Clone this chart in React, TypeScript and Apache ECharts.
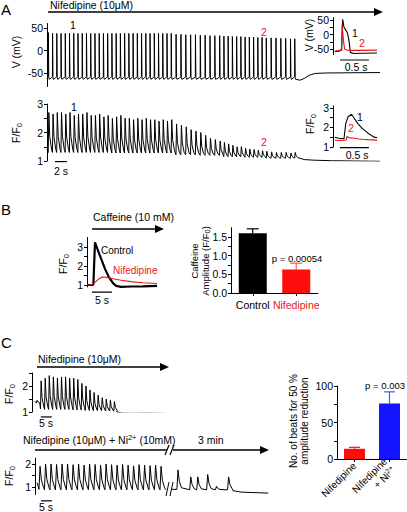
import React, { useEffect, useRef } from 'react';
import * as echarts from 'echarts';

// ---------------- DATA ----------------
// Panel A: beat times (s), AP peaks (mV), Ca transient peaks/troughs (F/F0)
const beatTimesA = [0.2,0.9,1.6,2.3,3.0,3.7,4.4,5.1,5.8,6.5,7.2,7.9,8.6,9.3,10.0,10.7,11.4,12.1,12.8,13.5,14.2,14.9,15.6,16.3,17.0,17.7,18.4,19.1,19.8,20.5,21.3,22.1,22.9,23.7,24.5,25.3,26.1,26.9,27.7,28.5,29.2,29.9,30.6,31.3,32.0,32.7,33.4,34.1,34.8,35.5,36.2,37.0,37.8,38.6,39.4,40.2,40.9];
const apPeakA = [40,38,38,38,38,38,38,38,38,38, 38,38,38,38,38,38,38,38,38,38, 38,38,38,38,38,38,38,38,38,38, 36,36,35,35,35,34,34,33,33,33, 32,32,31,31,31,30,30,30,29,29, 28,28,28,27,27,26,26];
const apDiastolicA = -64;
const apTailA = [[41.05,-64],[41.8,-66],[42.5,-62],[43.3,-55],[44.3,-51],[46,-50],[50,-49.5],[55,-49]];
const caPeakA = [2.7,2.65,2.7,2.7,2.65,2.7,2.6,2.65,2.65,2.7, 2.6,2.6,2.65,2.55,2.6,2.5,2.55,2.6,2.5,2.5, 2.45,2.5,2.45,2.5,2.45,2.45,2.4,2.45,2.4,2.45, 2.3,2.25,2.2,2.1,2.05,2.0,1.9,1.8,1.75,1.7, 1.65,1.6,1.55,1.5,1.5,1.45,1.42,1.4,1.38,1.36, 1.34,1.32,1.3,1.3,1.3,1.28,1.3];
const caTroughA = [1.3,1.3,1.3,1.3,1.3,1.3,1.3,1.3,1.3,1.3, 1.3,1.3,1.3,1.3,1.3,1.28,1.28,1.28,1.28,1.28, 1.28,1.28,1.28,1.28,1.28,1.28,1.28,1.28,1.28,1.28, 1.22,1.22,1.22,1.22,1.22,1.2,1.2,1.2,1.2,1.2, 1.15,1.15,1.15,1.15,1.15,1.13,1.13,1.13,1.13,1.13, 1.1,1.1,1.1,1.1,1.1,1.1,1.1];
const caTailA = [[41.5,1.1],[42.5,1.05],[44,1.03],[47,1.01],[51,1.0],[55,0.99]];

// Panel A insets (single beats 1 and 2)
const insetAp1 = [[0.03,-60],[0.1,-58],[0.15,-54],[0.167,54],[0.19,26],[0.22,16],[0.25,6],[0.275,-20],[0.3,-62],[0.36,-66],[0.5,-65],[0.76,-64]];
const insetAp2 = [[0.03,-57],[0.1,-56],[0.145,-52],[0.157,36],[0.18,-20],[0.2,-50],[0.24,-54],[0.35,-55],[0.5,-55],[0.76,-54]];
const insetCa1 = [[0.03,1.5],[0.1,1.45],[0.19,1.42],[0.22,2.2],[0.26,2.55],[0.32,2.68],[0.36,2.5],[0.43,2.2],[0.5,1.97],[0.6,1.72],[0.7,1.52],[0.76,1.47]];
const insetCa2 = [[0.03,1.36],[0.1,1.33],[0.2,1.35],[0.23,1.36],[0.24,1.55],[0.27,1.48],[0.33,1.46],[0.42,1.42],[0.5,1.4],[0.6,1.38],[0.76,1.35]];

// Panel B: caffeine-induced transients and summary
const cafControl = [[0,1.0],[1.4,1.0],[1.6,1.05],[2.0,3.25],[2.5,2.95],[3.5,2.4],[4.5,1.85],[5.5,1.4],[6.5,1.1],[7.3,0.95],[8.5,0.9],[11,0.92],[14,0.93],[17.5,0.95]];
const cafNifedipine = [[0,1.0],[1.0,1.0],[1.8,1.1],[2.8,1.3],[3.8,1.42],[5,1.4],[6.5,1.33],[8.5,1.25],[11,1.18],[14,1.12],[17.5,1.08]];
const cafCategories = ['Control', 'Nifedipine'];
const cafMeans = [1.6, 0.63];
const cafErrors = [0.12, 0.17];

// Panel C: Nifedipine alone
const beatTimesC1 = [2.0,3.85,5.7,7.55,9.4,11.25,13.1,14.95,16.8,18.65,20.5,22.35,24.2,26.05,27.9,29.75,31.6,33.45,35.3,37.15];
const caPeakC1 = [1.45,2.2,2.3,2.4,2.35,2.3,2.35,2.35,2.3,2.3,2.25,2.1,2.0,1.85,1.75,1.65,1.55,1.5,1.45,1.4];
const caTroughC1 = [1.35,1.12,1.1,1.1,1.1,1.1,1.1,1.1,1.1,1.08,1.08,1.08,1.06,1.06,1.05,1.05,1.05,1.04,1.04,1.03];
const caTailC1 = [[38.6,1.0],[41,0.96],[46,0.95],[52,0.96],[58,0.95],[63,0.94]];

// Panel C: Nifedipine + Ni2+ (before and after the 3 min break)
const beatTimesC2 = [1.8,4.3,6.8,9.3,11.8,14.3,16.8,19.3,21.8,24.3,26.8,29.3,31.8,34.3,36.8,39.3,41.8,44.3,46.8,49.3,51.8,54.3,56.8];
const caPeakC2 = [1.9,2.0,2.0,1.98,2.0,2.0,1.97,2.0,1.95,2.0,1.98,1.95,2.0,1.97,1.95,1.98,1.95,1.92,1.97,1.95,1.93,1.95,1.9];
const caTroughC2 = [0.92,0.9,0.9,0.9,0.9,0.9,0.9,0.9,0.9,0.9,0.9,0.9,0.9,0.9,0.9,0.9,0.9,0.9,0.9,0.9,0.9,0.9,0.9];
const caEndC2 = [[59.5,0.9]];
const beatTimesC2b = [64.5,70.3,73.5,78.0,82.0,87.5];
const caPeakC2b = [1.75,1.45,1.45,1.55,1.05,1.45];
const caTroughC2b = [0.92,0.9,0.9,0.9,0.9,0.9];
const caTailC2b = [[90,0.86],[94,0.8],[100,0.78],[106,0.76]];

const beatCategories = ['Nifedipine', 'Nifedipine + Ni2+'];
const beatMeans = [14, 76];
const beatErrors = [2, 16];

// ---------------- STYLE ----------------
const FONT = "'Liberation Sans', Arial, Helvetica, sans-serif";
const FS = 10.5;
const RED = '#e8141c';
const BAR_RED = '#ff0d0d';
const BAR_BLUE = '#1414ff';

// ---------------- builders ----------------
function apTrace(times: number[], peaks: number[], mdp: number, tail: number[][]) {
  const d: number[][] = [[0, mdp + 2]];
  times.forEach((t, i) => {
    d.push([t - 0.2, mdp + 3]);
    d.push([t, mdp + 6]);
    d.push([t + 0.02, peaks[i]]);
    d.push([t + 0.09, mdp + 4]);
    d.push([t + 0.16, mdp]);
  });
  return d.concat(tail);
}

function caTrace(times: number[], peaks: number[], troughs: number[], rise: number, d1: number, d2: number, start?: number[]) {
  const d: number[][] = start ? [start] : [];
  times.forEach((t, i) => {
    const b = troughs[i];
    const a = peaks[i] - b;
    d.push([t, b]);
    d.push([t + rise, peaks[i]]);
    d.push([t + rise + d1, b + a * 0.4]);
    d.push([t + rise + d1 + d2, b + a * 0.08]);
  });
  return d;
}

const line = (xi: number, data: number[][], color = '#000', width = 1, clip = true) => ({
  type: 'line', xAxisIndex: xi, yAxisIndex: xi, data, showSymbol: false, symbol: 'none',
  lineStyle: { color, width }, clip, silent: true, z: 2,
});

const yAxis = (gi: number, min: number, max: number, ticks: number[], labels: number[], fmt?: (v: number) => string) => ({
  type: 'value', gridIndex: gi, min, max,
  axisLine: { show: true, lineStyle: { color: '#000', width: 1 } },
  axisTick: { show: true, length: 3, customValues: ticks, lineStyle: { color: '#000', width: 1 } },
  axisLabel: { show: true, customValues: labels, fontSize: FS, color: '#000', margin: 4, fontFamily: FONT, formatter: fmt },
  splitLine: { show: false },
});

const xHidden = (gi: number, max: number) => ({ type: 'value', gridIndex: gi, min: 0, max, show: false });

const txt = (text: string, x: number, y: number, o: any = {}) => ({
  type: 'text', x, y, rotation: o.rot || 0, z: 20, silent: true,
  style: {
    text, fill: o.color || '#000', fontSize: o.size || FS, fontFamily: FONT,
    align: o.align || 'left', verticalAlign: 'middle',
    textAlign: o.align || 'left', textVerticalAlign: 'middle',
    lineHeight: o.lh || 14,
    rich: {
      s: { fontSize: 7.5, lineHeight: 8, verticalAlign: 'bottom', fontFamily: FONT, fill: o.color || '#000' },
      p: { fontSize: 7.5, lineHeight: 8, verticalAlign: 'top', fontFamily: FONT, fill: o.color || '#000' },
    },
  },
});

const ff = (x: number, y: number) => txt('F/F{s|0}', x, y, { rot: Math.PI / 2, align: 'center' });

const seg = (x1: number, y1: number, x2: number, y2: number, w = 1.6) => ({
  type: 'line', z: 20, silent: true, shape: { x1, y1, x2, y2 }, style: { stroke: '#000', lineWidth: w },
});
const head = (xTip: number, y: number) => ({
  type: 'polygon', z: 20, silent: true,
  shape: { points: [[xTip - 9, y - 4], [xTip, y], [xTip - 9, y + 4]] }, style: { fill: '#000' },
});

function errorSeries(idx: number, means: number[], errs: number[], colors: string[], cap: number) {
  return {
    type: 'custom', xAxisIndex: idx, yAxisIndex: idx, z: 1, silent: true,
    data: means.map((m, i) => [i, m, errs[i]]),
    renderItem: (params: any, api: any) => {
      const i = api.value(0), m = api.value(1), e = api.value(2);
      const p0 = api.coord([i, m]);
      const p1 = api.coord([i, m + e]);
      const c = colors[params.dataIndex];
      return {
        type: 'group', children: [
          { type: 'line', shape: { x1: p0[0], y1: p0[1], x2: p1[0], y2: p1[1] }, style: { stroke: c, lineWidth: 1.2 } },
          { type: 'line', shape: { x1: p1[0] - cap / 2, y1: p1[1], x2: p1[0] + cap / 2, y2: p1[1] }, style: { stroke: c, lineWidth: 1.2 } },
        ],
      };
    },
  };
}

function buildOption() {
  const grids = [
    { left: 47, top: 23.5, width: 333, height: 63 },     // 0 A voltage
    { left: 47, top: 104, width: 333, height: 57 },      // 1 A calcium
    { left: 333, top: 17.6, width: 44, height: 37.05 },  // 2 inset V
    { left: 333, top: 106, width: 44, height: 41 },      // 3 inset Ca
    { left: 87, top: 237.5, width: 72, height: 49.4 },   // 4 B trace
    { left: 231, top: 227.7, width: 87, height: 65.3 },  // 5 B bars
    { left: 32, top: 373, width: 140, height: 39 },      // 6 C1 trace
    { left: 35, top: 458.1, width: 233, height: 36.4 },  // 7 C2 trace
    { left: 337, top: 386, width: 70, height: 73 },      // 8 C bars
  ];

  const xAxes: any[] = [
    xHidden(0, 55), xHidden(1, 55), xHidden(2, 0.76), xHidden(3, 0.76), xHidden(4, 18),
    {
      type: 'category', gridIndex: 5, data: cafCategories,
      axisLine: { show: true, lineStyle: { color: '#000' } },
      axisTick: { show: true, alignWithLabel: true, length: 3, lineStyle: { color: '#000' } },
      axisLabel: {
        fontSize: FS, fontFamily: FONT, margin: 6, interval: 0, hideOverlap: false,
        color: (v: any, i: number) => (i === 1 || v === 'Nifedipine' ? RED : '#000'),
      },
    },
    xHidden(6, 63.6), xHidden(7, 105.9),
    {
      type: 'category', gridIndex: 8, data: beatCategories,
      axisLine: { show: true, lineStyle: { color: '#000' } },
      axisTick: { show: true, alignWithLabel: true, length: 3, lineStyle: { color: '#000' } },
      axisLabel: {
        fontSize: 10, fontFamily: FONT, color: '#000', rotate: 45, margin: 5, interval: 0, hideOverlap: false, lineHeight: 12,
        formatter: (v: string, i: number) => (i === 1 ? 'Nifedipine\n+ Ni{p|2+}' : v),
        rich: { p: { fontSize: 7, lineHeight: 8, verticalAlign: 'top', fontFamily: FONT, color: '#000' } },
      },
    },
  ];

  const yAxes: any[] = [
    yAxis(0, -80, 60, [-50, 0, 50], [-50, 0, 50]),
    yAxis(1, 1, 3, [1, 1.5, 2, 2.5, 3], [1, 2, 3]),
    yAxis(2, -70, 60, [-50, -25, 0, 25, 50], [-50, 0, 50]),
    yAxis(3, 1, 3.1, [1, 1.5, 2, 2.5, 3], [1, 2, 3]),
    yAxis(4, 0.9, 3.5, [1, 1.5, 2, 2.5, 3], [1, 2, 3]),
    yAxis(5, 0, 1.75, [0, 0.25, 0.5, 0.75, 1, 1.25, 1.5], [0, 0.5, 1, 1.5], (v: number) => v.toFixed(1)),
    yAxis(6, 1, 2.5, [1, 1.5, 2, 2.5], [1, 2]),
    yAxis(7, 0.7, 2.25, [1, 1.5, 2], [1, 2]),
    yAxis(8, 0, 100, [0, 25, 50, 75, 100], [0, 50, 100]),
  ];

  const series: any[] = [
    line(0, apTrace(beatTimesA, apPeakA, apDiastolicA, apTailA), '#000', 1),
    line(1, caTrace(beatTimesA, caPeakA, caTroughA, 0.1, 0.15, 0.3, [0, 1.4]).concat(caTailA), '#000', 1),
    line(2, insetAp1, '#000', 1.1),
    line(2, insetAp2, RED, 1.1),
    line(3, insetCa1, '#000', 1.1),
    line(3, insetCa2, RED, 1.1),
    line(4, cafControl, '#000', 2.2),
    line(4, cafNifedipine, RED, 1.1),
    line(6, caTrace(beatTimesC1, caPeakC1, caTroughC1, 0.3, 0.4, 0.8, [1.2, 1.4]).concat(caTailC1), '#000', 1),
    line(7, caTrace(beatTimesC2, caPeakC2, caTroughC2, 0.5, 0.6, 1.0, [1.0, 1.2]).concat(caEndC2), '#000', 1),
    line(7, caTrace(beatTimesC2b, caPeakC2b, caTroughC2b, 0.5, 0.6, 1.0, [62.0, 0.92]).concat(caTailC2b), '#000', 1),
    // scale bars
    line(1, [[1.3, 0.98], [3.3, 0.98]], '#000', 1.2, false),
    line(2, [[0.12, -88.8], [0.62, -88.8]], '#000', 1.2, false),
    line(3, [[0.12, 0.97], [0.62, 0.97]], '#000', 1.2, false),
    line(4, [[1.25, 0.62], [6.25, 0.62]], '#000', 1.2, false),
    line(6, [[4, 0.81], [9, 0.81]], '#000', 1.2, false),
    line(7, [[2.7, 0.43], [7.7, 0.43]], '#000', 1.2, false),
    {
      type: 'bar', xAxisIndex: 5, yAxisIndex: 5, barWidth: 28, silent: true, z: 2,
      data: cafMeans.map((v, i) => ({ value: v, itemStyle: { color: i === 0 ? '#000' : BAR_RED } })),
    },
    errorSeries(5, cafMeans, cafErrors, ['#000', '#ff5050'], 12),
    {
      type: 'bar', xAxisIndex: 8, yAxisIndex: 8, barWidth: 21, silent: true, z: 2,
      data: beatMeans.map((v, i) => ({ value: v, itemStyle: { color: i === 0 ? BAR_RED : BAR_BLUE } })),
    },
    errorSeries(8, beatMeans, beatErrors, [BAR_RED, '#4a5ae0'], 11),
  ];

  const graphic: any[] = [
    // Panel A
    txt('A', 1, 9, { size: 15 }),
    txt('Nifedipine (10μM)', 50, 5),
    seg(48, 12, 375, 12), head(383, 12),
    txt('V (mV)', 16, 52, { rot: Math.PI / 2, align: 'center' }),
    ff(16, 133),
    txt('1', 70, 25), txt('2', 261, 32, { color: RED }),
    txt('1', 71, 107), txt('2', 261, 142, { color: RED }),
    txt('2 s', 61, 171, { align: 'center' }),
    txt('V (mV)', 309, 35, { rot: Math.PI / 2, align: 'center' }),
    txt('1', 352, 33), txt('2', 359, 43, { color: RED }),
    txt('0.5 s', 356, 67, { align: 'center' }),
    ff(310, 124),
    txt('1', 357, 117), txt('2', 348, 128, { color: RED }),
    txt('0.5 s', 357, 155, { align: 'center' }),
    // Panel B
    txt('B', 1, 209, { size: 15 }),
    txt('Caffeine (10 mM)', 93, 217),
    seg(92, 229, 156, 229), head(164, 229),
    ff(63, 264),
    txt('Control', 101, 250, { size: 10 }),
    txt('Nifedipine', 113, 270, { size: 10, color: RED }),
    txt('5 s', 102, 300, { align: 'center' }),
    txt('Caffeine\nAmplitude (F/F{s|0})', 200, 261, { rot: Math.PI / 2, align: 'center', size: 9.5, lh: 11 }),
    txt('p = 0.00054', 297, 258, { align: 'center', size: 9.5 }),
    // Panel C
    txt('C', 1, 342, { size: 15 }),
    txt('Nifedipine (10μM)', 38, 359),
    seg(37, 367, 161, 367), head(169, 367),
    ff(9, 394),
    txt('5 s', 46, 423, { align: 'center' }),
    txt('Nifedipine (10μM) + Ni{p|2+} (10mM)', 23, 440),
    txt('3 min', 198, 440),
    seg(35, 450, 167, 450), seg(173, 450, 261, 450), head(269, 450),
    seg(165, 455, 169, 445, 1.2), seg(170, 455, 174, 445, 1.2),
    seg(166, 496, 169, 482, 1), seg(170, 496, 173, 482, 1),
    ff(9, 476),
    txt('5 s', 46, 507, { align: 'center' }),
    txt('No. of beats for 50 %\namplitude reduction', 299, 421, { rot: Math.PI / 2, align: 'center', size: 10, lh: 11 }),
    txt('p = 0.003', 405, 385, { align: 'right', size: 9.5 }),
  ];

  return {
    animation: false,
    backgroundColor: '#fff',
    textStyle: { fontFamily: FONT },
    grid: grids,
    xAxis: xAxes,
    yAxis: yAxes,
    series,
    graphic,
  };
}

export default function App() {
  const ref = useRef<HTMLDivElement>(null);
  useEffect(() => {
    const chart = echarts.init(ref.current as HTMLDivElement, null, { renderer: 'svg', width: 407, height: 512 });
    chart.setOption(buildOption() as any);
    return () => chart.dispose();
  }, []);
  return <div ref={ref} style={{ position: 'fixed', left: 0, top: 0, width: 407, height: 512, background: '#fff' }} />;
}
